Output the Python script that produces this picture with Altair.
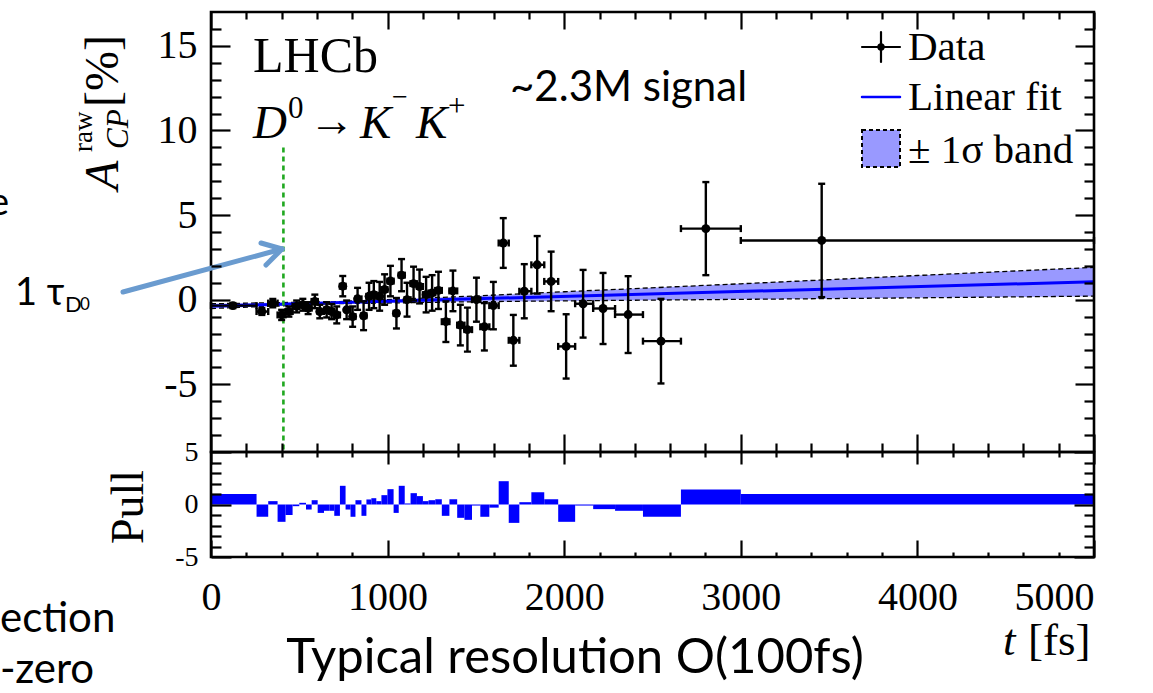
import altair as alt
import pandas as pd

# ---------------- data ----------------
bin_lo = [0, 258, 324, 377, 422, 462, 500, 538, 570, 604, 640, 670, 698, 730, 762, 790, 818, 852, 880, 908,
          936, 965, 999, 1034, 1063, 1097, 1130, 1166, 1200, 1232, 1270, 1307, 1350, 1394, 1435, 1478, 1525,
          1576, 1629, 1686, 1746, 1814, 1887, 1966, 2062, 2164, 2288, 2446, 2661, 3000]
bin_hi = [258, 324, 377, 422, 462, 500, 538, 570, 604, 640, 670, 698, 730, 762, 790, 818, 852, 880, 908, 936,
          965, 999, 1034, 1063, 1097, 1130, 1166, 1200, 1232, 1270, 1307, 1350, 1394, 1435, 1478, 1525, 1576,
          1629, 1686, 1746, 1814, 1887, 1966, 2062, 2164, 2288, 2446, 2661, 3000, 5000]
t_mean = [124, 288, 350, 400, 441, 485, 520, 550, 588, 616, 655, 683, 712, 746, 768, 802, 830, 864, 895, 922,
          955, 983, 1016, 1050, 1079, 1110, 1147, 1181, 1218, 1252, 1288, 1330, 1370, 1412, 1452, 1503, 1548,
          1599, 1655, 1712, 1774, 1847, 1926, 2011, 2107, 2220, 2362, 2548, 2802, 3458]
acp = [-0.35, -0.7, -0.2, -0.9, -0.7, -0.4, -0.3, -0.5, -0.1, -0.7, -0.6, -0.7, -0.9, 0.8, -0.6, -1.0, 0.05,
       -0.95, 0.2, 0.3, 0.2, 0.6, 1.1, -0.8, 1.45, 0.0, 0.95, 0.78, 0.3, 0.4, 0.55, -1.3, 0.52, -1.5, -1.77, 0.0,
       -1.6, -0.35, 3.35, -2.4, 0.5, 2.06, 1.08, -2.76, -0.24, -0.52, -0.88, -2.45, 4.2, 3.5]
acp_err = [0.15, 0.2, 0.25, 0.3, 0.3, 0.35, 0.35, 0.35, 0.4, 0.4, 0.45, 0.45, 0.5, 0.6, 0.55, 0.6, 0.65, 0.85,
           0.8, 0.8, 0.85, 0.9, 0.9, 0.9, 0.95, 1.0, 1.0, 1.0, 1.05, 1.05, 1.1, 1.2, 1.2, 1.2, 1.3, 1.3, 1.4, 1.4,
           1.47, 1.5, 1.6, 1.7, 1.76, 1.9, 2.0, 2.1, 2.27, 2.5, 2.75, 3.35]
pull = [1.0, -1.17, 0.32, -1.65, -1.0, -0.16, 0.16, -0.48, 0.41, -0.8, -0.6, -0.6, -1.08, 1.78, -0.48, -1.17,
        0.41, -1.08, 0.48, 0.6, 0.32, 0.89, 1.46, -0.8, 1.78, 0.1, 1.08, 0.8, 0.32, 0.41, 0.5, -1.08, 0.5, -1.27,
        -1.46, -0.1, -1.17, -0.3, 2.22, -1.75, 0.22, 1.17, 0.5, -1.65, -0.1, -0.44, -0.6, -1.17, 1.43, 1.0]

fit_t = [0, 5000]
fit_a = [-0.38, 1.06]
band_t = [0, 700, 1500, 2000, 3000, 4000, 5000]
band_lo = [-0.52, -0.24, -0.12, -0.07, 0.02, 0.11, 0.21]
band_hi = [-0.24, -0.12, 0.22, 0.47, 0.94, 1.43, 1.91]
tau_d0 = [410]
tau_line_top = [9]
tau_line_bottom = [-9]

x_major = [0, 1000, 2000, 3000, 4000, 5000]
x_minor = [200, 400, 600, 800, 1200, 1400, 1600, 1800, 2200, 2400, 2600, 2800,
           3200, 3400, 3600, 3800, 4200, 4400, 4600, 4800]
y_major = [-5, 0, 5, 10, 15]
y_minor = [-8, -7, -6, -4, -3, -2, -1, 1, 2, 3, 4, 6, 7, 8, 9, 11, 12, 13, 14, 16]
pull_major = [-5, 0, 5]
pull_minor = [-4, -3, -2, -1, 1, 2, 3, 4]
main_domain = [-9, 17]
pull_domain = [-5, 5]
t_domain = [0, 5000]

# ---------------- tables ----------------
df = pd.DataFrame({"t": t_mean, "a": acp, "err": acp_err, "blo": bin_lo, "bhi": bin_hi, "pull": pull})
df["lo"] = df["a"] - df["err"]
df["hi"] = df["a"] + df["err"]
df["base"] = 0
band_df = pd.DataFrame({"t": band_t, "lo": band_lo, "hi": band_hi})
fit_df = pd.DataFrame({"t": fit_t, "a": fit_a})
tau_df = pd.DataFrame({"t": tau_d0, "y1": tau_line_top, "y2": tau_line_bottom})
frame_main = pd.DataFrame({"x0": [t_domain[0]], "x1": [t_domain[1]], "y0": [main_domain[0]], "y1": [main_domain[1]]})
frame_pull = pd.DataFrame({"x0": [t_domain[0]], "x1": [t_domain[1]], "y0": [pull_domain[0]], "y1": [pull_domain[1]]})
dummy = pd.DataFrame({"t": [0], "v": [0]})

W, H = 883, 545
MAIN_H = 440
xs = alt.Scale(domain=t_domain, nice=False, zero=False)
ys_main = alt.Scale(domain=main_domain, range=[MAIN_H, 0], nice=False, zero=False)
ys_pull = alt.Scale(domain=pull_domain, range=[H, MAIN_H], nice=False, zero=False)

SERIF = "Liberation Serif"
SANS = "Lato, Noto Sans"
LW = 2.4


def X(field, scale=xs):
    return alt.X(field, type="quantitative", scale=scale, axis=None)


def YM(field):
    return alt.Y(field, type="quantitative", scale=ys_main, axis=None)


def YP(field):
    return alt.Y(field, type="quantitative", scale=ys_pull, axis=None)


layers = []
# band
layers.append(alt.Chart(band_df).mark_area(color="#9999ff", opacity=1).encode(x=X("t"), y=YM("lo"), y2="hi"))
layers.append(alt.Chart(band_df).mark_line(color="black", strokeDash=[5, 3], strokeWidth=1.3).encode(x=X("t"), y=YM("hi")))
layers.append(alt.Chart(band_df).mark_line(color="black", strokeDash=[5, 3], strokeWidth=1.3).encode(x=X("t"), y=YM("lo")))
# fit
layers.append(alt.Chart(fit_df).mark_line(color="#0000ff", strokeWidth=3).encode(x=X("t"), y=YM("a")))
# tau line
layers.append(alt.Chart(tau_df).mark_rule(color="#20a820", strokeDash=[5, 4], strokeWidth=2.6).encode(x=X("t"), y=YM("y1"), y2="y2"))
# error bars
layers.append(alt.Chart(df).mark_rule(color="black", strokeWidth=LW).encode(x=X("t"), y=YM("lo"), y2="hi"))
layers.append(alt.Chart(df).mark_tick(orient="horizontal", size=7, thickness=LW, color="black", opacity=1).encode(x=X("t"), y=YM("lo")))
layers.append(alt.Chart(df).mark_tick(orient="horizontal", size=7, thickness=LW, color="black", opacity=1).encode(x=X("t"), y=YM("hi")))
layers.append(alt.Chart(df).mark_rule(color="black", strokeWidth=LW).encode(x=X("blo"), x2="bhi", y=YM("a")))
layers.append(alt.Chart(df).mark_tick(orient="vertical", size=7, thickness=LW, color="black", opacity=1).encode(x=X("blo"), y=YM("a")))
layers.append(alt.Chart(df).mark_tick(orient="vertical", size=7, thickness=LW, color="black", opacity=1).encode(x=X("bhi"), y=YM("a")))
layers.append(alt.Chart(df).mark_circle(size=80, color="black", opacity=1).encode(x=X("t"), y=YM("a")))
# pull bars
layers.append(alt.Chart(df).mark_rect(color="#0000ff").encode(x=X("blo"), x2="bhi", y=YP("base"), y2="pull"))
# frames
layers.append(alt.Chart(frame_main).mark_rect(fillOpacity=0, stroke="black", strokeWidth=2.6).encode(x=X("x0"), x2="x1", y=YM("y0"), y2="y1"))
layers.append(alt.Chart(frame_pull).mark_rect(fillOpacity=0, stroke="black", strokeWidth=2.6).encode(x=X("x0"), x2="x1", y=YP("y0"), y2="y1"))


# ---------------- axes (inward ticks) ----------------
def ax(orient, values, size, offset=None, labels=False, **kw):
    d = dict(orient=orient, values=values, tickSize=size, offset=(-size if offset is None else offset),
             domain=False, grid=False, ticks=True, tickColor="black", tickWidth=2.2, labels=labels,
             title=None, zindex=2)
    d.update(kw)
    return alt.Axis(**d)


def axis_layer(xaxis, yaxis, yscale):
    return alt.Chart(dummy).mark_point(opacity=0).encode(
        x=alt.X("t:Q", scale=xs, axis=xaxis),
        y=alt.Y("v:Q", scale=yscale, axis=yaxis))


plain = "'' + datum.value"
lab_y = dict(labelFont=SERIF, labelFontSize=40, labelColor="black", labelPadding=14, labelFlush=False,
             labelOverlap=False, labelBaseline="middle", labelExpr=plain)
lab_p = dict(labelFont=SERIF, labelFontSize=28, labelColor="black", labelPadding=13, labelFlush=False,
             labelOverlap=False, labelBaseline="middle", labelExpr=plain)
lab_x = dict(labelFont=SERIF, labelFontSize=40, labelColor="black", labelPadding=20, labelFlush=False,
             labelOverlap=False, labelExpr=plain,
             labelAlign=alt.condition("datum.value == 5000", alt.value("right"), alt.value("center")))

layers += [
    axis_layer(ax("top", x_major, 17), ax("left", y_major, 19, labels=True, **lab_y), ys_main),
    axis_layer(ax("top", x_minor, 7), ax("left", y_minor, 10), ys_main),
    axis_layer(ax("bottom", x_major, 18, offset=-(H - MAIN_H) - 18), ax("right", y_major, 19), ys_main),
    axis_layer(ax("bottom", x_minor, 9, offset=-(H - MAIN_H) - 9), ax("right", y_minor, 10), ys_main),
    axis_layer(ax("top", x_major, 12, offset=-(MAIN_H + 12)), ax("left", pull_major, 20, labels=True, **lab_p), ys_pull),
    axis_layer(ax("top", x_minor, 5, offset=-(MAIN_H + 5)), ax("left", pull_minor, 10), ys_pull),
    axis_layer(ax("bottom", x_major, 17, labels=True, **lab_x), ax("right", pull_major, 20), ys_pull),
    axis_layer(ax("bottom", x_minor, 5), ax("right", pull_minor, 10), ys_pull),
]


# ---------------- text & annotations (pixel positions) ----------------
def txt(s, x, y, size, font=SERIF, style="normal", angle=0, align="left", baseline="alphabetic", color="black"):
    return alt.Chart(dummy).mark_text(text=s, font=font, fontSize=size, fontStyle=style, angle=angle,
                                      align=align, baseline=baseline, color=color).encode(
        x=alt.value(x), y=alt.value(y))


def seg(x1, y1, x2, y2, color, width):
    return alt.Chart(dummy).mark_rule(color=color, strokeWidth=width, strokeCap="round").encode(
        x=alt.value(x1), y=alt.value(y1), x2=alt.value(x2), y2=alt.value(y2))


layers += [
    txt("LHCb", 42, 60, 50),
    txt("D", 42, 126, 47, style="italic"),
    txt("0", 77, 106, 31),
    txt("→", 98, 124, 46),
    txt("K", 149, 126, 47, style="italic"),
    txt("−", 181, 94, 28),
    txt("K", 205, 126, 47, style="italic"),
    txt("+", 237, 104, 31),
    txt("~2.3M signal", 299, 89, 42, font=SANS),
    # legend
    seg(651, 35, 689, 35, "black", 2.2),
    seg(670, 20, 670, 50, "black", 2.2),
    alt.Chart(dummy).mark_circle(size=55, color="black", opacity=1).encode(x=alt.value(670), y=alt.value(35)),
    txt("Data", 697, 48, 41),
    seg(651, 85, 689, 85, "#0000ff", 2.5),
    txt("Linear fit", 697, 98, 41),
    alt.Chart(dummy).mark_rect(fill="#9999ff", stroke="black", strokeDash=[4, 3], strokeWidth=2).encode(
        x=alt.value(651), x2=alt.value(689), y=alt.value(118), y2=alt.value(155)),
    txt("± 1σ band", 697, 151, 41),
    # axis titles
    txt("A", -93, 178, 48, style="italic", angle=270),
    txt("CP", -83, 137, 31, style="italic", angle=270),
    txt("raw", -119, 140, 27, angle=270),
    txt("[%]", -93, 95, 48, angle=270),
    txt("Pull", -68, 495, 46, angle=270, align="center"),
    txt("t", 792, 643, 45, style="italic"),
    txt("[fs]", 817, 643, 45),
    # slide annotations
    seg(-88, 280, 71, 237, "#6a9bcf", 5),
    seg(71, 237, 50, 231, "#6a9bcf", 5),
    seg(71, 237, 55, 253, "#6a9bcf", 5),
    txt("1 τ", -196, 293, 38, font=SANS),
    txt("D", -146, 300, 22, font=SANS),
    txt("0", -131, 298, 17, font=SANS),
    txt("e", -222, 203, 38, font=SANS),
    txt("ection", -211, 620, 42, font=SANS),
    txt("-zero", -211, 671, 42, font=SANS),
    txt("Typical resolution O(100fs)", 364, 661, 49, font=SANS, align="center"),
]

chart = alt.layer(*layers).resolve_scale(y="independent").resolve_axis(
    x="independent", y="independent").properties(
    width=W, height=H,
    autosize=alt.AutoSizeParams(type="none"),
    padding={"left": 211, "top": 12, "right": 59, "bottom": 136},
    background="white",
).configure_view(stroke="transparent")

chart.save("out.html", embed_options={"renderer": "svg", "actions": False})
